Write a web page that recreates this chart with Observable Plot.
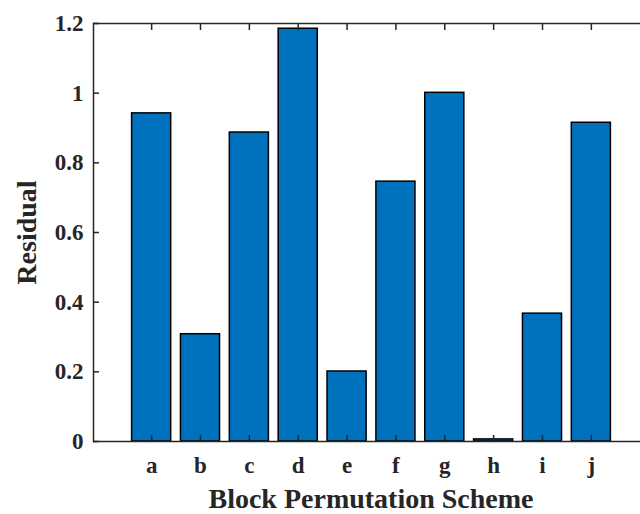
<!DOCTYPE html>
<html>
<head>
<meta charset="utf-8">
<script src="https://cdn.jsdelivr.net/npm/d3@7"></script>
<script src="https://cdn.jsdelivr.net/npm/@observablehq/plot@0.6"></script>
<style>
  html, body { margin: 0; padding: 0; background: #fff; overflow: hidden; }
</style>
</head>
<body>
<div id="chart"></div>
<script>
const categories = ["a", "b", "c", "d", "e", "f", "g", "h", "i", "j"];
const residuals = [0.942, 0.308, 0.887, 1.185, 0.201, 0.746, 1.001, 0.006, 0.367, 0.915];
const yTicks = [0, 0.2, 0.4, 0.6, 0.8, 1, 1.2];
const xLabel = "Block Permutation Scheme";
const yLabel = "Residual";

const data = categories.map((c, i) => ({cat: c, val: residuals[i]}));
const axisColor = "#262626";
const font = "'Liberation Serif', 'DejaVu Serif', serif";

const chart = Plot.plot({
  width: 640,
  height: 514,
  marginLeft: 93,
  marginRight: 0,
  marginTop: 23,
  marginBottom: 73,
  style: {fontFamily: font, background: "#fff"},
  x: {type: "band", domain: categories, range: [93, 649], round: false, paddingInner: 0.2, paddingOuter: 0.79, align: 0.5, axis: null},
  y: {domain: [0, 1.2], range: [441, 23], axis: null},
  marks: [
    Plot.barY(data, {x: "cat", y: "val", fill: "#0072BD", stroke: "#000", strokeWidth: 1.5}),
    // inward ticks
    Plot.axisY({ticks: yTicks, tickSize: -6, text: null, label: null, stroke: axisColor, strokeWidth: 1.5}),
    Plot.axisX({anchor: "top", tickSize: -6, text: null, label: null, stroke: axisColor, strokeWidth: 1.5}),
    Plot.axisX({anchor: "bottom", tickSize: -6, text: null, label: null, stroke: axisColor, strokeWidth: 1.5}),
    // labels
    Plot.axisY({ticks: yTicks, tickSize: 0, tickPadding: 10, tickFormat: d => String(d), fontSize: 23, fontWeight: "bold", fill: axisColor, label: null}),
    Plot.axisX({anchor: "bottom", tickSize: 0, tickPadding: 15, fontSize: 23, fontWeight: "bold", fill: axisColor, label: null}),
    // frame lines
    Plot.ruleY([0, 1.2], {stroke: axisColor, strokeWidth: 1.5}),
    Plot.frame({anchor: "left", stroke: axisColor, strokeWidth: 1.5}),
    // axis titles
    Plot.text([xLabel], {frameAnchor: "bottom", text: d => d, dy: 66, dx: 4, fontSize: 28, fontWeight: "bold", fill: axisColor}),
    Plot.text([yLabel], {y: () => 0.6, frameAnchor: "left", textAnchor: "middle", text: d => d, dx: -66, rotate: -90, fontSize: 28, fontWeight: "bold", fill: axisColor})
  ]
});
document.getElementById("chart").appendChild(chart);
</script>
</body>
</html>
